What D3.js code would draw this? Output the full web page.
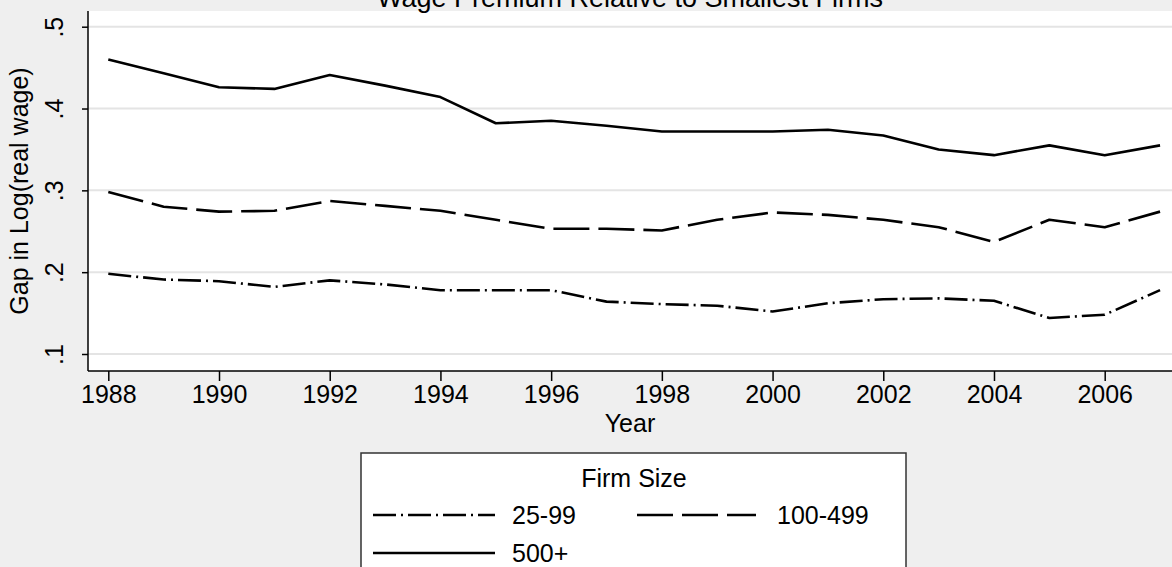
<!DOCTYPE html>
<html>
<head>
<meta charset="utf-8">
<script src="https://cdn.jsdelivr.net/npm/d3@7"></script>
<style>
  html, body { margin: 0; padding: 0; background: #efefef; }
  svg { display: block; font-family: "Liberation Sans", Arial, sans-serif; }
</style>
</head>
<body>
<svg id="chart" width="1172" height="567"></svg>
<script>
const years = [1988,1989,1990,1991,1992,1993,1994,1995,1996,1997,1998,1999,2000,2001,2002,2003,2004,2005,2006,2007];
const s25_99 = [0.198,0.191,0.189,0.182,0.190,0.185,0.178,0.178,0.178,0.164,0.161,0.159,0.152,0.162,0.167,0.168,0.165,0.144,0.148,0.178];
const s100_499 = [0.298,0.280,0.274,0.275,0.287,0.281,0.275,0.264,0.253,0.253,0.251,0.264,0.273,0.270,0.264,0.255,0.237,0.264,0.255,0.274];
const s500 = [0.460,0.443,0.426,0.424,0.441,0.428,0.414,0.382,0.385,0.379,0.372,0.372,0.372,0.374,0.367,0.350,0.343,0.355,0.343,0.355];
const seriesNames = ["25-99","100-499","500+"];
const yTicks = [0.1,0.2,0.3,0.4,0.5];
const xTicks = [1988,1990,1992,1994,1996,1998,2000,2002,2004,2006];
const titleText = "Wage Premium Relative to Smallest Firms";
const yTitle = "Gap in Log(real wage)";
const xTitle = "Year";
const legendTitle = "Firm Size";

const svg = d3.select("#chart");
const W = 1172, H = 567;
const plot = {left: 88, right: 1172, top: 11, bottom: 371};

const x = d3.scaleLinear().domain([1988, 2006]).range([108.3, 1104.7]);
const y = d3.scaleLinear().domain([0.1, 0.5]).range([354, 26.7]);

svg.append("rect").attr("width", W).attr("height", H).attr("fill", "#efefef");
svg.append("rect").attr("x", plot.left).attr("y", plot.top)
  .attr("width", plot.right - plot.left).attr("height", plot.bottom - plot.top).attr("fill", "#fff");

// gridlines
svg.append("g").selectAll("line").data(yTicks).join("line")
  .attr("x1", plot.left).attr("x2", plot.right)
  .attr("y1", d => y(d)).attr("y2", d => y(d))
  .attr("stroke", "#e4e4e4").attr("stroke-width", 2);

// title (cut at top)
svg.append("text").attr("x", (plot.left + plot.right) / 2).attr("y", 6.5)
  .attr("text-anchor", "middle").attr("font-size", 27).attr("fill", "#000").text(titleText);

// series
const styles = [
  {data: s25_99, dash: "23,5,2,5"},
  {data: s100_499, dash: "36,9"},
  {data: s500, dash: null}
];
const line = d3.line().x((d, i) => x(years[i])).y(d => y(d));
styles.forEach(s => {
  svg.append("path").datum(s.data).attr("d", line)
    .attr("fill", "none").attr("stroke", "#000").attr("stroke-width", 2.6)
    .attr("stroke-linejoin", "round")
    .attr("stroke-dasharray", s.dash);
});

// axes
const yAxis = d3.axisLeft(y).tickValues(yTicks).tickSize(6)
  .tickFormat(d => d3.format(".1f")(d).replace(/^0/, ""));
const gy = svg.append("g").attr("transform", `translate(${plot.left},0)`).call(yAxis);
gy.select(".domain").attr("d", `M0,${plot.top}V${plot.bottom}`).attr("stroke", "#000").attr("stroke-width", 1.5);
gy.selectAll(".tick line").attr("stroke", "#000").attr("stroke-width", 1.5);
gy.selectAll(".tick text").attr("font-size", 25).attr("fill", "#000")
  .attr("text-anchor", "middle").attr("transform", "rotate(-90)")
  .attr("x", 0).attr("dy", 0)
  .attr("y", -25);
gy.selectAll(".tick text").each(function() {
  const t = d3.select(this);
  // rotate around tick position; tick group already translated vertically
  t.attr("transform", "rotate(-90)").attr("x", 0).attr("y", -25);
});
gy.attr("font-family", null);

const xAxis = d3.axisBottom(x).tickValues(xTicks).tickSize(10).tickFormat(d3.format("d"));
const gx = svg.append("g").attr("transform", `translate(0,${plot.bottom})`).call(xAxis);
gx.select(".domain").attr("d", `M${plot.left},0H${plot.right}`).attr("stroke", "#000").attr("stroke-width", 1.5);
gx.selectAll(".tick line").attr("stroke", "#000").attr("stroke-width", 1.5);
gx.selectAll(".tick text").attr("font-size", 25).attr("fill", "#000").attr("y", 14).attr("dy", "0.71em");
gx.attr("font-family", null);

// axis titles
svg.append("text").attr("transform", `translate(28,${(plot.top + plot.bottom) / 2}) rotate(-90)`)
  .attr("text-anchor", "middle").attr("font-size", 25).attr("fill", "#000").text(yTitle);
svg.append("text").attr("x", (plot.left + plot.right) / 2).attr("y", 432)
  .attr("text-anchor", "middle").attr("font-size", 25).attr("fill", "#000").text(xTitle);

// legend
const lg = svg.append("g");
lg.append("rect").attr("x", 361).attr("y", 453).attr("width", 545).attr("height", 130)
  .attr("fill", "#fff").attr("stroke", "#333").attr("stroke-width", 1.5);
lg.append("text").attr("x", 634).attr("y", 487).attr("text-anchor", "middle")
  .attr("font-size", 25).attr("fill", "#000").text(legendTitle);
const legendPos = [
  {x0: 373, x1: 495, tx: 512, y: 515},
  {x0: 637, x1: 756, tx: 777, y: 515},
  {x0: 373, x1: 495, tx: 512, y: 553}
];
styles.forEach((s, i) => {
  const p = legendPos[i];
  lg.append("line").attr("x1", p.x0).attr("x2", p.x1).attr("y1", p.y).attr("y2", p.y)
    .attr("stroke", "#000").attr("stroke-width", 2.6).attr("stroke-dasharray", s.dash);
  lg.append("text").attr("x", p.tx).attr("y", p.y + 9).attr("font-size", 25)
    .attr("fill", "#000").text(seriesNames[i]);
});
</script>
</body>
</html>
